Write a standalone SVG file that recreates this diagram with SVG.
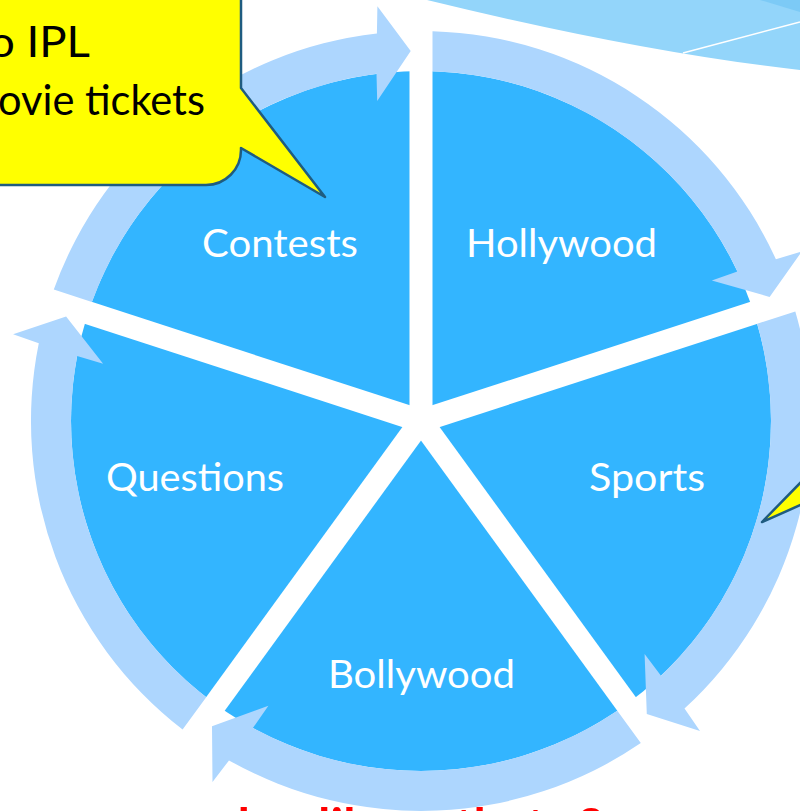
<svg xmlns="http://www.w3.org/2000/svg" width="800" height="811" viewBox="0 0 800 811">
<style>
.pie{fill:#33B5FF}
.ring{fill:#ADD6FE}
.spoke{stroke:#FFFFFF;stroke-width:23;stroke-linecap:butt}
.lbl{font-family:Lato,"Open Sans","Liberation Sans",sans-serif;font-size:39px;fill:#FFFFFF}
.call{fill:#FFFF00;stroke:#1F5C80;stroke-width:2.5;stroke-linejoin:round}
.ctext{font-family:Lato,"Open Sans","Liberation Sans",sans-serif;font-size:42px;fill:#000000}
.red{font-family:Lato,"Liberation Sans",sans-serif;font-weight:bold;font-size:50px;fill:#FF0000}
</style>
<rect x="0" y="0" width="800" height="811" fill="#FFFFFF"/>
<g id="banner">
<path d="M427,0 Q640,52 800,70 L800,0 Z" fill="#93D5FA"/>
<path d="M760,0 L800,0 L800,12 Z" fill="#7CCAF6"/>
<line x1="683" y1="53" x2="800" y2="22" stroke="#FFFFFF" stroke-width="1.5"/>
</g>
<g id="pie">
<circle class="pie" cx="421" cy="421" r="350"/>
</g>
<g id="spokes">
<line class="spoke" x1="421" y1="421" x2="421" y2="66"/>
<line class="spoke" x1="421" y1="421" x2="758.6" y2="311.3"/>
<line class="spoke" x1="421" y1="421" x2="629.7" y2="708.2"/>
<line class="spoke" x1="421" y1="421" x2="212.3" y2="708.2"/>
<line class="spoke" x1="421" y1="421" x2="83.4" y2="311.3"/>
</g>
<g id="connectors">
<path class="ring" d="M53.8,289.6 A390,390 0 0 1 376.9,33.5 L377.4,6.3 L410.7,51.1 L377.2,101.0 L376.5,73.8 A350,350 0 0 0 91.9,302.0 Z"/>
<path class="ring" d="M432.5,31.2 A390,390 0 0 1 775.9,259.3 L801.9,251.4 L769.6,296.9 L711.8,280.4 L737.4,271.4 A350,350 0 0 0 432.5,71.2 Z"/>
<path class="ring" d="M795.3,311.5 A390,390 0 0 1 684.5,708.5 L700.0,730.9 L646.8,714.1 L644.6,654.1 L661.0,675.7 A350,350 0 0 0 757.2,323.8 Z"/>
<path class="ring" d="M640.8,743.1 A390,390 0 0 1 229.0,760.4 L212.5,782.1 L212.0,726.3 L268.4,705.7 L252.9,728.0 A350,350 0 0 0 617.3,710.7 Z"/>
<path class="ring" d="M182.6,729.6 A390,390 0 0 1 38.8,343.2 L13.1,334.3 L66.1,316.5 L103.1,363.8 L77.1,356.0 A350,350 0 0 0 206.2,697.3 Z"/>
</g>
<g id="node-contests"><text class="lbl" x="202" y="257" textLength="156" lengthAdjust="spacingAndGlyphs">Contests</text></g>
<g id="node-hollywood"><text class="lbl" x="466" y="257" textLength="191" lengthAdjust="spacingAndGlyphs">Hollywood</text></g>
<g id="node-sports"><text class="lbl" x="589" y="491" textLength="116" lengthAdjust="spacingAndGlyphs">Sports</text></g>
<g id="node-questions"><text class="lbl" x="106" y="491" textLength="178" lengthAdjust="spacingAndGlyphs">Questions</text></g>
<g id="node-bollywood"><text class="lbl" x="328" y="688" textLength="187" lengthAdjust="spacingAndGlyphs">Bollywood</text></g>
<g id="callout-left">
<path class="call" d="M-5,-5 L241,-5 L241,88 L325,197 L241,148 L241,150 A35,35 0 0 1 206,185 L-5,185 Z"/>
<text class="ctext" x="-11" y="57" textLength="101" lengthAdjust="spacingAndGlyphs">o IPL</text>
<text class="ctext" x="-2" y="115" textLength="207" lengthAdjust="spacingAndGlyphs">ovie tickets</text>
</g>
<g id="callout-right">
<path class="call" d="M805,478 L762,522 L805,503"/>
</g>
<g id="footer">
<text class="red" y="844"><tspan x="168">and</tspan><tspan x="318">like</tspan><tspan x="455">that</tspan><tspan x="580">?</tspan></text>
</g>
</svg>
